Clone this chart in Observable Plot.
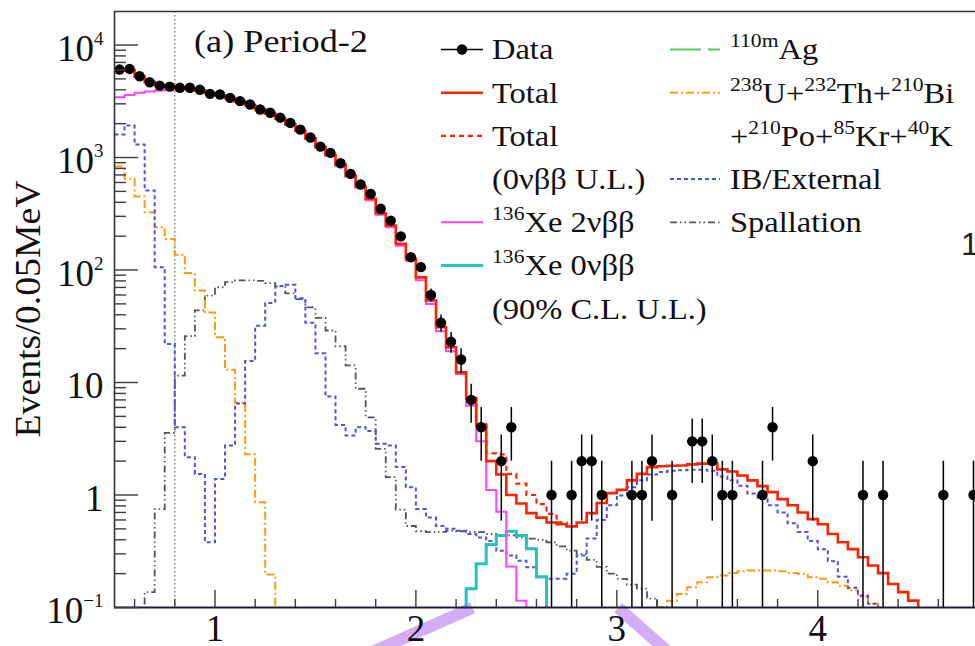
<!DOCTYPE html>
<html>
<head>
<meta charset="utf-8">
<script src="https://cdn.jsdelivr.net/npm/d3@7"></script>
<script src="https://cdn.jsdelivr.net/npm/@observablehq/plot@0.6"></script>
<style>
  html, body { margin: 0; padding: 0; background: #fff; }
  #chart svg { display: block; }
</style>
</head>
<body>
<div id="chart"></div>
<script>
// Visible-energy spectrum, Period-2, 0.05 MeV bins starting at 0.5 MeV.
const binStart = 0.5;
const binWidth = 0.05;

// Observed events per bin
const dataCounts = [
  6050, 6130, 5280, 4670, 4360, 4270, 4170, 4170, 4000, 3680,
  3630, 3390, 3170, 2960, 2670, 2500, 2260, 2030, 1770, 1505,
  1250, 1100, 890, 716, 576, 475, 350, 275, 199, 130,
  106, 60, 34, 23, 16, 7, 4, 0, 2, 4,
  0, 0, 0, 1, 0, 1, 2, 2, 1, 0,
  0, 1, 1, 2, 0, 1, 0, 3, 3, 2,
  1, 1, 0, 0, 1, 4, 0, 0, 0, 2,
  0, 0, 0, 0, 1, 0, 1, 0, 0, 0,
  0, 0, 1, 0, 0, 1
];

// Best-fit total
const totalFit = [
  5900, 6000, 5250, 4700, 4400, 4250, 4150, 4100, 3950, 3750,
  3580, 3380, 3150, 2930, 2680, 2460, 2220, 1980, 1730, 1480,
  1240, 1050, 860, 690, 550, 430, 320, 249, 171, 126,
  86, 53.5, 31, 20.6, 12.3, 7.2, 4.15, 2.0, 1.52, 1.0,
  0.84, 0.69, 0.63, 0.57, 0.55, 0.525, 0.57, 0.69, 0.85, 1.04,
  1.11, 1.35, 1.54, 1.77, 1.8, 1.82, 1.83, 1.87, 1.9, 1.9,
  1.69, 1.62, 1.49, 1.35, 1.2, 1.06, 0.92, 0.81, 0.7, 0.61,
  0.55, 0.45, 0.38, 0.33, 0.28, 0.236, 0.202, 0.162, 0.137, 0.115,
  0.094
];

// Total with the 0vbb upper limit (differs from the best fit only here)
const totalULStart = 2.25;
const totalUL = [7.3, 4.3, 2.34, 2.3, 1.54, 1.26, 1.0, 0.83, 0.68, 0.57, 0.53];

// 136Xe 2vbb
const xe2nbb = [
  3440, 3600, 3760, 3860, 3950, 4000, 4020, 4020, 3900, 3720,
  3550, 3350, 3130, 2910, 2660, 2440, 2200, 1960, 1710, 1465,
  1225, 1035, 845, 675, 538, 418, 310, 240, 164, 120,
  81, 50, 28.5, 19, 11.9, 6.2, 3.0, 1.11, 0.71, 0.232,
  0.115
];

// 136Xe 0vbb at the 90% C.L. upper limit
const xe0nbbStart = 2.25;
const xe0nbb = [0.147, 0.245, 0.363, 0.437, 0.476, 0.437, 0.333, 0.188];

// Inner balloon / external backgrounds
const ibExternal = [
  1600, 1925, 1306, 509, 106, 22, 4.0, 2.17, 1.54, 0.38,
  1.39, 2.75, 6.5, 15.5, 32, 51, 72, 74, 56, 34,
  18.2, 7.5, 4.2, 3.38, 4.0, 3.7, 2.85, 2.75, 1.77, 1.17,
  0.75, 0.63, 0.53, 0.5, 0.48, 0.45, 0.42, 0.39, 0.32, 0.29,
  0.26, 0.228, 0.186, 0.18, 0.18, 0.2, 0.29, 0.41, 0.6, 0.81,
  0.99, 1.17, 1.35, 1.52, 1.6, 1.64, 1.66, 1.68, 1.68, 1.64,
  1.46, 1.35, 1.21, 1.03, 0.92, 0.81, 0.7, 0.56, 0.47, 0.39,
  0.33, 0.258, 0.188, 0.15, 0.128, 0.108, 0.09
];

// 238U + 232Th + 210Bi + 210Po + 85Kr + 40K (low- and high-energy parts)
const uThLow = [832, 646, 450, 326, 240, 189, 137, 94, 65.7, 42, 25.3, 13, 6.6, 2.3, 0.86, 0.196];
const uThHighStart = 3.2;
const uThHigh = [
  0.101, 0.115, 0.132, 0.151, 0.168, 0.186, 0.193, 0.203, 0.21, 0.213,
  0.213, 0.213, 0.21, 0.203, 0.2, 0.186, 0.18, 0.168, 0.156, 0.142,
  0.125, 0.108
];

// Spallation products
const spallationStart = 0.65;
const spallation = [
  0.137, 0.75, 3.57, 11.5, 25.8, 43.7, 59.3, 70.3, 78, 80.8,
  80.8, 80, 76.6, 71.5, 62, 55, 46.5, 37.5, 29, 21,
  14.2, 8.8, 4.9, 2.57, 1.44, 0.74, 0.53, 0.476, 0.467, 0.47,
  0.48, 0.476, 0.47, 0.467, 0.45, 0.44, 0.437, 0.42, 0.41, 0.40,
  0.38, 0.35, 0.32, 0.30, 0.265, 0.23, 0.2, 0.18, 0.16, 0.147,
  0.12
];

// Axis ticks and labels
const xTickLabels = [1, 2, 3, 4];
const yTickValues = [0.1, 1, 10, 100, 1000, 10000];
const yTickLabels = ["10^{\u22121}", "1", "10", "10^{2}", "10^{3}", "10^{4}"];

// Lower edge of the fit window
const fitThreshold = 0.8;

// Guide strokes leaving the energy axis
const zoomGuides = [
  {e1: 1.78, v1: 0.04, e2: 2.282, v2: 0.0995},
  {e1: 3.007, v1: 0.0995, e2: 3.257, v2: 0.04}
];

// Legend
const legendLabels = [
  "Data", "Total", "Total", "(0\u03bd\u03b2\u03b2 U.L.)", "^{136}Xe 2\u03bd\u03b2\u03b2",
  "^{136}Xe 0\u03bd\u03b2\u03b2", "(90% C.L. U.L.)",
  "^{110m}Ag", "^{238}U+^{232}Th+^{210}Bi", "+^{210}Po+^{85}Kr+^{40}K", "IB/External", "Spallation"
];
const legendKeys = ["data", "total", "totalUL", null, "xe2nbb", "xe0nbb", null, "ag", "uth", null, "ib", "spall"];
const legendColumn = [0, 0, 0, 0, 0, 0, 0, 1, 1, 1, 1, 1];
const legendRow = [0, 1, 2, 3, 4, 5, 6, 0, 1, 2, 3, 4];

const styles = {
  total:   {stroke: "#ff2200", strokeWidth: 2.6},
  totalUL: {stroke: "#ff2200", strokeWidth: 2.2, strokeDasharray: "5,4"},
  xe2nbb:  {stroke: "#ff44ff", strokeWidth: 2},
  xe0nbb:  {stroke: "#22c4c4", strokeWidth: 3},
  ag:      {stroke: "#55cc55", strokeWidth: 2, strokeDasharray: "31,7"},
  uth:     {stroke: "#ff9a0f", strokeWidth: 2, strokeDasharray: "8,3,2,3"},
  ib:      {stroke: "#5252e0", strokeWidth: 2, strokeDasharray: "4,3"},
  spall:   {stroke: "#555555", strokeWidth: 1.8, strokeDasharray: "7,3,1.5,3,1.5,3"}
};

const W = 975, H = 646;
const margin = {left: 114, top: 11, bottom: 39, right: 0};
const plotW = W - margin.left - margin.right;
const plotH = H - margin.top - margin.bottom;
const xDomain = [0.5, 4.785];
const yDomain = [0.1, 19860];
const floorValue = 1e-3;
const serif = "'Liberation Serif', 'Times New Roman', serif";

// Histogram outline as a step path; empty bins and the outer edges fall to the axis
function stepOutline(values, start, {dropStart = true, dropEnd = true} = {}) {
  const edge = (i) => +(start + i * binWidth).toFixed(4);
  const pts = [];
  if (dropStart) pts.push({e: edge(0), v: floorValue});
  values.forEach((v, i) => {
    const y = v > 0 ? v : floorValue;
    pts.push({e: edge(i), v: y}, {e: edge(i + 1), v: y});
  });
  if (dropEnd) pts.push({e: edge(values.length), v: floorValue});
  return pts;
}

function histLine(values, start, style, opts) {
  return Plot.line(stepOutline(values, start, opts), {
    x: "e", y: "v", ...style, clip: true,
    strokeLinejoin: "miter", strokeLinecap: "butt", strokeMiterlimit: 4
  });
}

const points = dataCounts
  .map((n, i) => ({e: binStart + (i + 0.5) * binWidth, n}))
  .filter((d) => d.n > 0)
  .map((d) => ({...d, lo: Math.max(d.n - Math.sqrt(d.n), floorValue), hi: d.n + Math.sqrt(d.n)}));

// Tick positions
const xMajor = xTickLabels;
const xMinor = d3.range(6, 48, 2).map((k) => k / 10).filter((v) => Math.abs(v - Math.round(v)) > 1e-9);
const yMajor = yTickValues;
const yMinor = [];
for (let p = -1; p <= 4; p++) for (let m = 2; m <= 9; m++) {
  const v = m * Math.pow(10, p);
  if (v < yDomain[1]) yMinor.push(v);
}
const tickStyle = {stroke: "#3a3a3a", strokeWidth: 1.4};

const plot = Plot.plot({
  width: W,
  height: H,
  marginLeft: margin.left,
  marginRight: margin.right,
  marginTop: margin.top,
  marginBottom: margin.bottom,
  style: {fontFamily: serif, background: "#fff", color: "#111"},
  x: {domain: xDomain},
  y: {type: "log", domain: yDomain},
  marks: [
    Plot.ruleX([fitThreshold], {stroke: "#7a7a7a", strokeWidth: 1.4, strokeDasharray: "1.5,2.5"}),
    Plot.link(zoomGuides, {x1: "e1", y1: "v1", x2: "e2", y2: "v2", stroke: "#d3aef7", strokeWidth: 12, strokeLinecap: "butt"}),

    histLine(spallation, spallationStart, styles.spall),
    histLine(uThLow, binStart, styles.uth, {dropStart: false}),
    histLine(uThHigh, uThHighStart, styles.uth),
    histLine(ibExternal, binStart, styles.ib, {dropStart: false}),
    histLine(xe0nbb, xe0nbbStart, styles.xe0nbb),
    histLine(xe2nbb, binStart, styles.xe2nbb, {dropStart: false}),
    histLine(totalUL, totalULStart, styles.totalUL, {dropStart: false, dropEnd: false}),
    histLine(totalFit, binStart, styles.total, {dropStart: false}),

    Plot.ruleX(points, {x: "e", y1: "lo", y2: "hi", stroke: "#000", strokeWidth: 1.5, clip: true}),
    Plot.dot(points, {x: "e", y: "n", r: 5.2, fill: "#000", stroke: "none", clip: true}),

    // frame
    Plot.ruleX([xDomain[0]], {stroke: "#333", strokeWidth: 1.6}),
    Plot.ruleY([yDomain[1]], {stroke: "#333", strokeWidth: 1.6}),
    Plot.ruleY([yDomain[0]], {stroke: "#1c1c3a", strokeWidth: 2}),

    // inward ticks
    Plot.ruleX(xMinor, {x: (d) => d, insetTop: plotH - 8, ...tickStyle}),
    Plot.ruleX(xMajor, {x: (d) => d, insetTop: plotH - 17, ...tickStyle}),
    Plot.ruleY(yMinor, {y: (d) => d, insetRight: plotW - 12, ...tickStyle}),
    Plot.ruleY(yMajor, {y: (d) => d, insetRight: plotW - 24, ...tickStyle}),

    Plot.axisX(xTickLabels, {anchor: "bottom", tickSize: 0, tickPadding: 7, fontSize: 37, label: null, color: "#111", tickFormat: (d) => String(d)}),
    Plot.axisY(yTickValues, {anchor: "left", tickSize: 0, tickPadding: 11, fontSize: 37, dy: 4, label: null, color: "#111",
      tickFormat: (d) => yTickLabels[yTickValues.indexOf(d)]})
  ]
});

document.getElementById("chart").appendChild(plot);

// Rich text with ^{...} superscripts
function appendRich(textSel, label, supSize, rise) {
  const parts = label.split(/(\^\{[^}]*\})/).filter((s) => s.length);
  let raised = false;
  for (const p of parts) {
    if (p.startsWith("^{")) {
      textSel.append("tspan").attr("font-size", supSize).attr("dy", raised ? 0 : -rise).text(p.slice(2, -1));
      raised = true;
    } else {
      textSel.append("tspan").attr("dy", raised ? rise : 0).text(p);
      raised = false;
    }
  }
}

// Exponents on the y tick labels
d3.select(plot).selectAll('g[aria-label="y-axis tick label"] text').each(function () {
  const sel = d3.select(this);
  const label = sel.text();
  sel.text(null);
  appendRich(sel, label, 19, 16);
});

const svg = d3.select(plot);

// Panel title
svg.append("text")
  .attr("transform", "translate(194,52) scale(1.15,1)")
  .attr("text-anchor", "start")
  .attr("font-family", serif).attr("font-size", 31.5).attr("fill", "#111")
  .text("(a) Period-2");

// Vertical axis title
svg.append("text")
  .attr("transform", `translate(40,${margin.top + plotH / 2}) rotate(-90) scale(1.05,1)`)
  .attr("text-anchor", "middle")
  .attr("font-family", serif).attr("font-size", 36).attr("fill", "#111")
  .text("Events/0.05MeV");

// Partial label at the right edge
svg.append("text")
  .attr("x", 961).attr("y", 255)
  .attr("text-anchor", "start")
  .attr("font-family", "'Liberation Sans', Arial, sans-serif").attr("font-size", 32).attr("fill", "#222")
  .text("1");

// Legend
const legendCols = [{x0: 441, x1: 483, tx: 492}, {x0: 670, x1: 720, tx: 730}];
const legendTop = 49.5, legendStep = 43.2;
const lg = svg.append("g").attr("font-family", serif).attr("fill", "#111").attr("text-anchor", "start");
legendLabels.forEach((label, i) => {
  const col = legendCols[legendColumn[i]];
  const cy = legendTop + legendRow[i] * legendStep;
  const key = legendKeys[i];
  if (key === "data") {
    lg.append("line").attr("x1", col.x0).attr("x2", col.x1).attr("y1", cy).attr("y2", cy)
      .attr("stroke", "#000").attr("stroke-width", 1.5);
    lg.append("circle").attr("cx", (col.x0 + col.x1) / 2).attr("cy", cy).attr("r", 5.2).attr("fill", "#000");
  } else if (key) {
    const s = styles[key];
    lg.append("line").attr("x1", col.x0).attr("x2", col.x1).attr("y1", cy).attr("y2", cy)
      .attr("stroke", s.stroke).attr("stroke-width", s.strokeWidth)
      .attr("stroke-dasharray", s.strokeDasharray || null);
  }
  const t = lg.append("text")
    .attr("transform", `translate(${col.tx},${cy + 9.8}) scale(1.14,1)`)
    .attr("text-anchor", "start")
    .attr("font-size", 28.5);
  appendRich(t, label, 19, 12);
});
</script>
</body>
</html>
